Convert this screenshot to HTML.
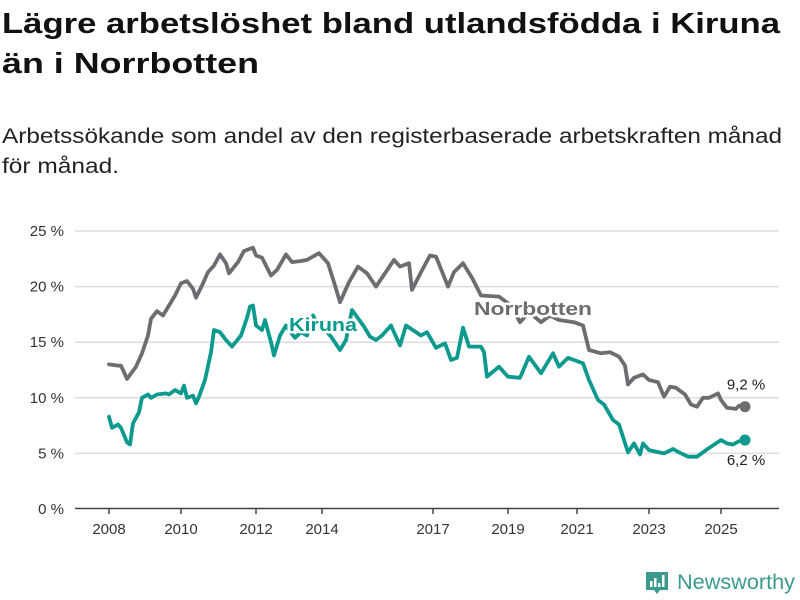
<!DOCTYPE html>
<html><head><meta charset="utf-8"><style>
html,body{margin:0;padding:0;background:#fff;}
svg{display:block;font-family:"Liberation Sans","DejaVu Sans",sans-serif;}
</style></head><body>
<svg id="chart" width="800" height="600" viewBox="0 0 800 600">
<text x="2" y="33" font-size="29" font-weight="bold" fill="#111" textLength="778" lengthAdjust="spacingAndGlyphs">Lägre arbetslöshet bland utlandsfödda i Kiruna</text>
<text x="2" y="73" font-size="29" font-weight="bold" fill="#111" textLength="257" lengthAdjust="spacingAndGlyphs">än i Norrbotten</text>
<text x="2" y="143" font-size="21" fill="#222" textLength="780" lengthAdjust="spacingAndGlyphs">Arbetssökande som andel av den registerbaserade arbetskraften månad</text>
<text x="2" y="173" font-size="21" fill="#222" textLength="117" lengthAdjust="spacingAndGlyphs">för månad.</text>
<g id="grid"></g>
<g id="series"></g>
<g id="labels"></g>
<g>
<path d="M646 572 h22 v18 h-8 l-3 4 l-3 -4 h-8 z" fill="#3a9a8e"/>
<rect x="650" y="581" width="2.5" height="6" fill="#fff"/><rect x="654" y="578" width="2.5" height="9" fill="#fff"/><rect x="658" y="583" width="2.5" height="4" fill="#fff"/><rect x="662" y="575" width="2.5" height="12" fill="#fff"/>
<text x="677" y="589" font-size="21" fill="#3a9a8e" textLength="118" lengthAdjust="spacingAndGlyphs">Newsworthy</text>
</g>
</svg>
<script>
const yTicks=[0,5,10,15,20,25];
const yTickLabels=["0 %","5 %","10 %","15 %","20 %","25 %"];
const xTickMonths=[0,24,49,71,108,133,156,180,204];
const xTickLabels=["2008","2010","2012","2014","2017","2019","2021","2023","2025"];
const norrMonths=[0,3,4,6,9,11,13,14,16,18,20,22,24,26,28,29,31,33,35,37,39,40,43,45,48,49,51,54,56,59,61,64,66,70,73,75,77,80,83,86,89,95,97,100,101,104,107,109,113,115,118,121,124,130,134,137,140,144,147,150,155,158,160,164,167,170,172,173,175,178,180,183,185,187,189,192,194,196,198,200,203,204,206,209,210,212];
const norrValues=[13.0,12.9,12.9,11.7,12.8,14.0,15.6,17.1,17.8,17.4,18.3,19.2,20.3,20.5,19.8,19.0,20.1,21.3,21.9,22.9,22.1,21.2,22.2,23.2,23.5,22.8,22.6,21.0,21.5,22.9,22.2,22.3,22.4,23.0,22.1,20.4,18.6,20.4,21.8,21.2,20.0,22.4,21.8,22.1,19.7,21.3,22.8,22.7,20.0,21.3,22.1,20.8,19.2,19.1,18.3,16.8,17.7,16.8,17.4,17.0,16.8,16.5,14.3,14.0,14.1,13.7,12.9,11.2,11.8,12.1,11.6,11.4,10.1,11.0,10.9,10.3,9.4,9.2,10.0,10.0,10.4,9.8,9.1,9.0,9.3,9.2];
const kirMonths=[0,1,3,4,6,7,8,10,11,13,14,16,19,20,22,24,25,26,28,29,30,32,34,35,37,39,41,44,46,47,48,49,51,52,54,55,57,59,60,62,64,66,68,70,72,74,77,79,81,85,87,89,91,94,97,99,104,106,109,112,114,116,118,120,124,125,126,130,133,137,140,144,148,150,153,155,158,160,163,165,168,170,173,175,177,178,180,185,188,190,193,196,199,204,206,208,210,212];
const kirValues=[8.3,7.3,7.6,7.3,6.0,5.8,7.7,8.7,10.0,10.3,10.0,10.3,10.4,10.3,10.7,10.4,11.1,10.0,10.2,9.5,10.1,11.6,14.1,16.1,15.9,15.2,14.6,15.6,17.2,18.2,18.3,16.5,16.1,17.0,15.0,13.8,15.6,16.5,16.1,15.4,15.9,15.6,17.4,16.3,16.1,15.5,14.3,15.2,17.9,16.4,15.5,15.2,15.6,16.5,14.7,16.5,15.6,15.9,14.5,14.9,13.4,13.6,16.3,14.6,14.6,14.1,11.9,12.8,11.9,11.8,13.7,12.2,14.0,12.8,13.6,13.4,13.1,11.6,9.8,9.4,8.0,7.6,5.1,5.9,4.9,5.9,5.3,5.0,5.4,5.1,4.7,4.7,5.3,6.2,5.9,5.8,6.1,6.2];

const NS="http://www.w3.org/2000/svg";
function xs(m){return 109+m*3.0;}
function ys(v){return 509-v*11.12;}
function mk(tag,attrs,parent){const e=document.createElementNS(NS,tag);for(const k in attrs)e.setAttribute(k,attrs[k]);parent.appendChild(e);return e;}
const grid=document.getElementById('grid');
yTicks.forEach((t,i)=>{
  if(t>0){const l=mk('line',{x1:75,x2:779,y1:ys(t),y2:ys(t),stroke:'#ddd','stroke-width':1.5},grid);
  
  }
  const tx=mk('text',{x:64,y:ys(t)+5,'font-size':15,fill:'#333','text-anchor':'end'},grid);
  tx.textContent=yTickLabels[i];
  
  
});
const ax=mk('line',{x1:75,x2:779,y1:508.5,y2:508.5,stroke:'#444','stroke-width':1.5},grid);


xTickMonths.forEach((m,i)=>{
  const tk=mk('line',{x1:xs(m),x2:xs(m),y1:508,y2:514,stroke:'#444','stroke-width':1.5},grid);
  
  
  const tx=mk('text',{x:xs(m),y:534,'font-size':15,fill:'#333','text-anchor':'middle'},grid);
  tx.textContent=xTickLabels[i];
  
  
});
const ser=document.getElementById('series');
function line(ms,vs,color,name){
  const d=ms.map((m,i)=>(i?'L':'M')+xs(m).toFixed(1)+' '+ys(vs[i]).toFixed(1)).join(' ');
  const p=mk('path',{d:d,fill:'none',stroke:color,'stroke-width':3.8,'stroke-linejoin':'round','stroke-linecap':'round'},ser);
  
  
  const n=ms.length-1;
  const c=mk('circle',{cx:xs(ms[n]),cy:ys(vs[n]),r:5.5,fill:color},ser);
  
  
}
line(norrMonths,norrValues,'#6d6c71','norrbotten');
line(kirMonths,kirValues,'#0b9a8d','kiruna');
const lab=document.getElementById('labels');
function label(x,y,txt,color,name,bold,anchor,size,len){
  const a={x:x,y:y,'font-size':size,fill:color,'font-weight':bold?'bold':'normal','text-anchor':anchor};
  if(len){a.textLength=len;a.lengthAdjust='spacingAndGlyphs';}
  if(bold){const h=mk('text',Object.assign({},a,{stroke:'#fff','stroke-width':5,'stroke-linejoin':'round',fill:'#fff'}),lab);h.textContent=txt;
  
  }
  const t=mk('text',a,lab);t.textContent=txt;
  
  
}
label(289,331,'Kiruna','#0b9a8d','kiruna-label',true,'start',18,68);
label(474,315,'Norrbotten','#6d6c71','norrbotten-label',true,'start',18,118);
const nl=norrMonths.length-1, kl=kirMonths.length-1;
label(746,ys(norrValues[nl])-17,norrValues[nl].toFixed(1).replace('.',',')+' %','#222','norrbotten-end-value',false,'middle',15);
label(746,ys(kirValues[kl])+25,kirValues[kl].toFixed(1).replace('.',',')+' %','#222','kiruna-end-value',false,'middle',15);
</script>
</body></html>
